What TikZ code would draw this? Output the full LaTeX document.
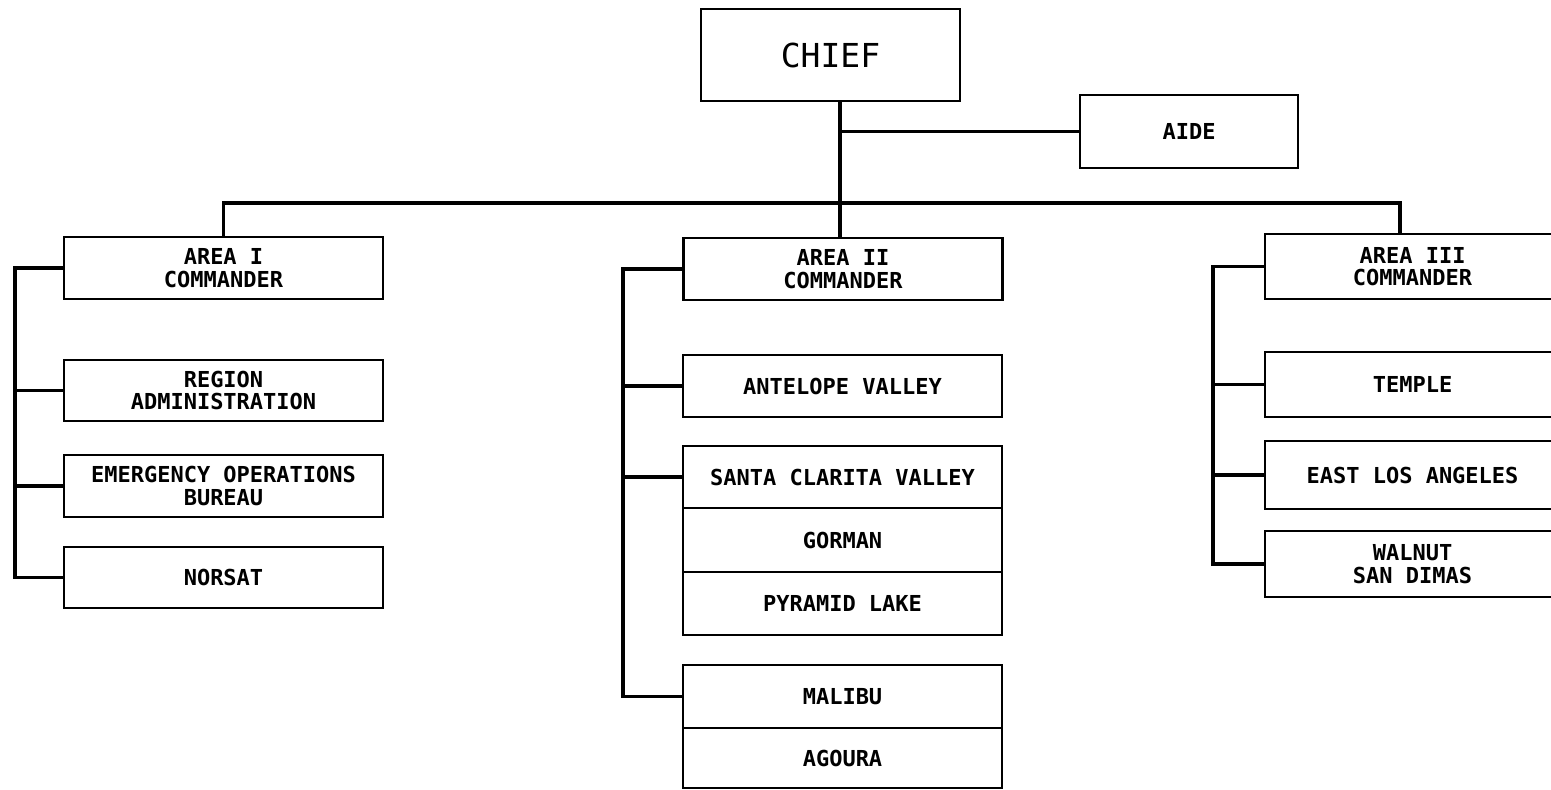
\documentclass[tikz,border=0pt]{standalone}
\usepackage{fontspec}
\newfontfamily\labfont{DejaVu Sans Mono}
\begin{document}
\begin{tikzpicture}[x=0.5pt,y=-0.5pt,
  box/.style={draw, line width=1.4pt, inner sep=0pt, align=center,
    font=\labfont\bfseries\fontsize{11}{11.2}\selectfont},
  wide/.style={minimum width=159.5pt},
  widec/.style={minimum width=147.5pt},
  conn/.style={line width=1.6pt},
]
\useasboundingbox (0,0) rectangle (1551,790);

% top
\node[box, minimum width=129.5pt, minimum height=46pt,
  font=\labfont\fontsize{16.5}{18}\selectfont] (chief) at (830.5,55) {CHIEF};
\node[box, minimum width=109pt, minimum height=36.5pt] (aide) at (1189,131.5) {AIDE};

% area commanders
\node[box, wide, minimum height=31pt] (a1) at (223.5,268) {AREA I\\COMMANDER};
\node[box, wide, minimum height=31pt] (a2) at (843,269) {AREA II\\COMMANDER};
\node[box, widec, minimum height=32.5pt] (a3) at (1412.5,266.5) {AREA III\\COMMANDER};

% area I units
\node[box, wide, minimum height=30.5pt] (ra) at (223.5,390.5) {REGION\\ADMINISTRATION};
\node[box, wide, minimum height=31pt] (eo) at (223.5,486) {EMERGENCY OPERATIONS\\BUREAU};
\node[box, wide, minimum height=30.5pt] (no) at (223.5,577.5) {NORSAT};

% area II units
\node[box, wide, minimum height=31pt] (av) at (842.5,386) {ANTELOPE VALLEY};
\node[box, wide, minimum height=31pt] (sc) at (842.5,477) {SANTA CLARITA VALLEY};
\node[box, wide, minimum height=32pt] (go) at (842.5,540) {GORMAN};
\node[box, wide, minimum height=31.5pt] (py) at (842.5,603.5) {PYRAMID LAKE};
\node[box, wide, minimum height=31.5pt] (ma) at (842.5,696.5) {MALIBU};
\node[box, wide, minimum height=30pt] (ag) at (842.5,758) {AGOURA};

% area III units
\node[box, widec, minimum height=32.5pt] (te) at (1412.5,384.5) {TEMPLE};
\node[box, widec, minimum height=34pt] (ea) at (1412.5,475) {EAST LOS ANGELES};
\node[box, widec, minimum height=33pt] (wa) at (1412.5,564) {WALNUT\\SAN DIMAS};

% helper coordinates
\coordinate (s) at (840,0);
\coordinate (b3) at (1400,203);
\coordinate (l1) at (15,0);
\coordinate (l2) at (623,0);
\coordinate (l3) at (1213,0);

% chief connectors
\draw[conn] (chief.south -| s) -- (a2.north -| s);
\draw[conn] (s |- aide.west) -- (aide.west);
\draw[conn] (a1.north) |- (b3) -- (b3 |- a3.north);

% area I bracket
\draw[conn] (a1.west) -| (l1 |- no.west) -- (no.west);
\draw[conn] (ra.west) -- (l1 |- ra.west);
\draw[conn] (eo.west) -- (l1 |- eo.west);

% area II bracket
\draw[conn] (a2.west) -| (l2 |- ma.west) -- (ma.west);
\draw[conn] (av.west) -- (l2 |- av.west);
\draw[conn] (sc.west) -- (l2 |- sc.west);

% area III bracket
\draw[conn] (a3.west) -| (l3 |- wa.west) -- (wa.west);
\draw[conn] (te.west) -- (l3 |- te.west);
\draw[conn] (ea.west) -- (l3 |- ea.west);
\end{tikzpicture}
\end{document}
